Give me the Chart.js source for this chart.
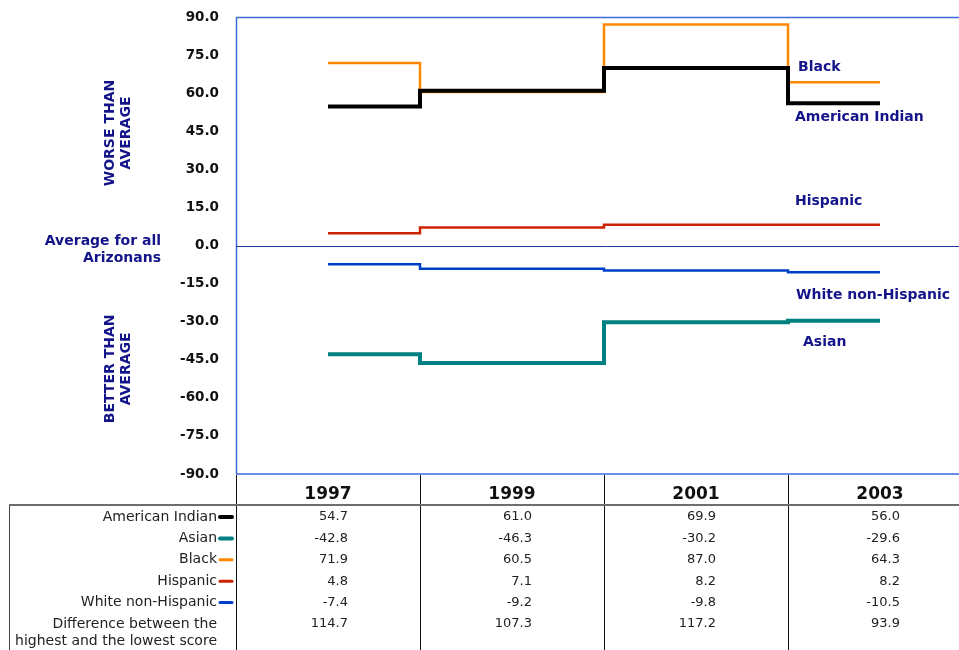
<!DOCTYPE html>
<html>
<head>
<meta charset="utf-8">
<script src="https://cdn.jsdelivr.net/npm/chart.js@4/dist/chart.umd.min.js"></script>
<style>
  html, body { margin: 0; padding: 0; background: #fff; overflow: hidden; }
  #wrap { position: relative; width: 980px; height: 650px; }
</style>
</head>
<body>
<div id="wrap"><canvas id="chart"></canvas></div>
<script>
// data
const years = ['1997', '1999', '2001', '2003'];
const groups = ['American Indian', 'Asian', 'Black', 'Hispanic', 'White non-Hispanic'];
const americanIndian = [54.7, 61.0, 69.9, 56.0];
const asian          = [-42.8, -46.3, -30.2, -29.6];
const black          = [71.9, 60.5, 87.0, 64.3];
const hispanic       = [4.8, 7.1, 8.2, 8.2];
const whiteNonHisp   = [-7.4, -9.2, -9.8, -10.5];
const differences    = [114.7, 107.3, 117.2, 93.9];
const yTicks = { min: -90, max: 90, step: 15 };

const NAVY = '#14148a';
const FONT = '"DejaVu Sans", Verdana, sans-serif';

const seriesStyle = [
  { color: '#000000', width: 4 },
  { color: '#008080', width: 4 },
  { color: '#ff8800', width: 2.5 },
  { color: '#cc2200', width: 2.5 },
  { color: '#0040c8', width: 2.5 },
];
const seriesData = [americanIndian, asian, black, hispanic, whiteNonHisp];

// where the navy series names sit (value units for y, px offset from 2003 column edge)
const nameSpots = [
  { i: 0, y: 50.6, dx: 7 },
  { i: 1, y: -38.0, dx: 15 },
  { i: 2, y: 70.3, dx: 10 },
  { i: 3, y: 17.5, dx: 7 },
  { i: 4, y: -19.5, dx: 8 },
];

const tablePlugin = {
  id: 'tablePlugin',
  beforeDatasetsDraw(chart) {
    const { ctx, chartArea: a, scales: { y } } = chart;
    ctx.save();
    // plot frame
    ctx.strokeStyle = '#3a6ad8';
    ctx.lineWidth = 1.5;
    ctx.beginPath();
    ctx.moveTo(a.left + 0.5, a.bottom);
    ctx.lineTo(a.left + 0.5, a.top + 0.5);
    ctx.lineTo(a.right + 5, a.top + 0.5);
    ctx.moveTo(a.left, a.bottom);
    ctx.lineTo(a.right + 5, a.bottom);
    ctx.stroke();
    // average line
    ctx.strokeStyle = '#1a3a9a';
    ctx.lineWidth = 1;
    const y0 = Math.round(y.getPixelForValue(0)) + 0.5;
    ctx.beginPath();
    ctx.moveTo(a.left, y0);
    ctx.lineTo(a.right + 5, y0);
    ctx.stroke();
    ctx.restore();
  },
  afterDraw(chart) {
    const { ctx, chartArea: a, scales: { x, y } } = chart;
    const H = chart.height;
    const colW = x.getPixelForValue(1) - x.getPixelForValue(0);
    ctx.save();

    // column dividers under the plot
    ctx.strokeStyle = '#111';
    ctx.lineWidth = 1;
    ctx.beginPath();
    ctx.moveTo(a.left + 0.5, a.bottom + 1);
    ctx.lineTo(a.left + 0.5, H);
    for (let i = 1; i < years.length; i++) {
      const bx = Math.round(x.getPixelForValue(i) - colW / 2) + 0.5;
      ctx.moveTo(bx, a.bottom + 1);
      ctx.lineTo(bx, H);
    }
    ctx.stroke();

    // table top rule and left edge
    const tableTop = a.bottom + 31;
    ctx.strokeStyle = '#6e6e6e';
    ctx.lineWidth = 2;
    ctx.beginPath();
    ctx.moveTo(9, tableTop);
    ctx.lineTo(a.right + 5, tableTop);
    ctx.stroke();
    ctx.strokeStyle = '#444';
    ctx.lineWidth = 1;
    ctx.beginPath();
    ctx.moveTo(9.5, tableTop);
    ctx.lineTo(9.5, H);
    ctx.stroke();

    // year headers
    ctx.fillStyle = '#111';
    ctx.font = 'bold 17px ' + FONT;
    ctx.textAlign = 'center';
    ctx.textBaseline = 'middle';
    years.forEach((yr, i) => ctx.fillText(yr, x.getPixelForValue(i), a.bottom + 21));

    // rows
    const rowH = 21.4;
    const row0 = tableTop + 12;
    const labelFont = '14px ' + FONT;
    const numFont = '13px ' + FONT;
    groups.forEach((g, r) => {
      const ry = row0 + r * rowH;
      ctx.fillStyle = '#222';
      ctx.textAlign = 'right';
      ctx.font = labelFont;
      ctx.fillText(g, a.left - 19, ry);
      ctx.strokeStyle = seriesStyle[r].color;
      ctx.lineWidth = Math.max(3, seriesStyle[r].width);
      ctx.lineCap = 'round';
      ctx.beginPath();
      ctx.moveTo(a.left - 16, ry);
      ctx.lineTo(a.left - 4, ry);
      ctx.stroke();
      ctx.font = numFont;
      seriesData[r].forEach((v, i) => {
        ctx.fillText(v.toFixed(1), x.getPixelForValue(i) + 20, ry);
      });
    });
    const dy = row0 + groups.length * rowH;
    ctx.fillStyle = '#222';
    ctx.textAlign = 'right';
    ctx.font = labelFont;
    ctx.fillText('Difference between the', a.left - 19, dy);
    ctx.fillText('highest and the lowest score', a.left - 19, dy + 17);
    ctx.font = numFont;
    differences.forEach((v, i) => ctx.fillText(v.toFixed(1), x.getPixelForValue(i) + 20, dy));

    // series names on the right
    const edge = x.getPixelForValue(years.length - 1) - colW / 2;
    ctx.fillStyle = NAVY;
    ctx.font = 'bold 14px ' + FONT;
    ctx.textAlign = 'left';
    nameSpots.forEach(s => ctx.fillText(groups[s.i], edge + s.dx, y.getPixelForValue(s.y)));

    // left side notes
    ctx.textAlign = 'right';
    ctx.fillText('Average for all', 161, y.getPixelForValue(0) - 4);
    ctx.fillText('Arizonans', 161, y.getPixelForValue(0) + 13);
    const vNote = (l1, l2, cy) => {
      ctx.save();
      ctx.translate(118, cy);
      ctx.rotate(-Math.PI / 2);
      ctx.textAlign = 'center';
      ctx.fillText(l1, 0, -8);
      ctx.fillText(l2, 0, 8);
      ctx.restore();
    };
    vNote('WORSE THAN', 'AVERAGE', y.getPixelForValue(44.3));
    vNote('BETTER THAN', 'AVERAGE', y.getPixelForValue(-48.6));
    ctx.restore();
  }
};

new Chart(document.getElementById('chart'), {
  type: 'line',
  data: {
    labels: years,
    datasets: groups.map((g, i) => ({
      label: g,
      data: seriesData[i],
      borderColor: seriesStyle[i].color,
      borderWidth: seriesStyle[i].width,
      stepped: 'middle',
      pointRadius: 0,
      fill: false,
    }))
  },
  options: {
    responsive: true,
    maintainAspectRatio: false,
    animation: false,
    devicePixelRatio: 1,
    layout: { autoPadding: false, padding: { top: 17, right: 8, left: 0, bottom: 0 } },
    plugins: { legend: { display: false }, tooltip: { enabled: false } },
    scales: {
      x: {
        type: 'category',
        offset: true,
        grid: { display: false, drawTicks: false },
        border: { display: false },
        ticks: { display: false },
        afterFit: s => { s.height = 176; s.paddingLeft = 0; s.paddingRight = 0; }
      },
      y: {
        min: yTicks.min,
        max: yTicks.max,
        grid: { display: false, drawTicks: false },
        border: { display: false },
        ticks: {
          stepSize: yTicks.step,
          padding: 17,
          color: '#111',
          font: { family: FONT, size: 13.5, weight: 'bold' },
          callback: v => v.toFixed(1)
        },
        afterFit: s => { s.width = 236; s.paddingTop = 0; s.paddingBottom = 0; }
      }
    }
  },
  plugins: [tablePlugin]
});
</script>
</body>
</html>
